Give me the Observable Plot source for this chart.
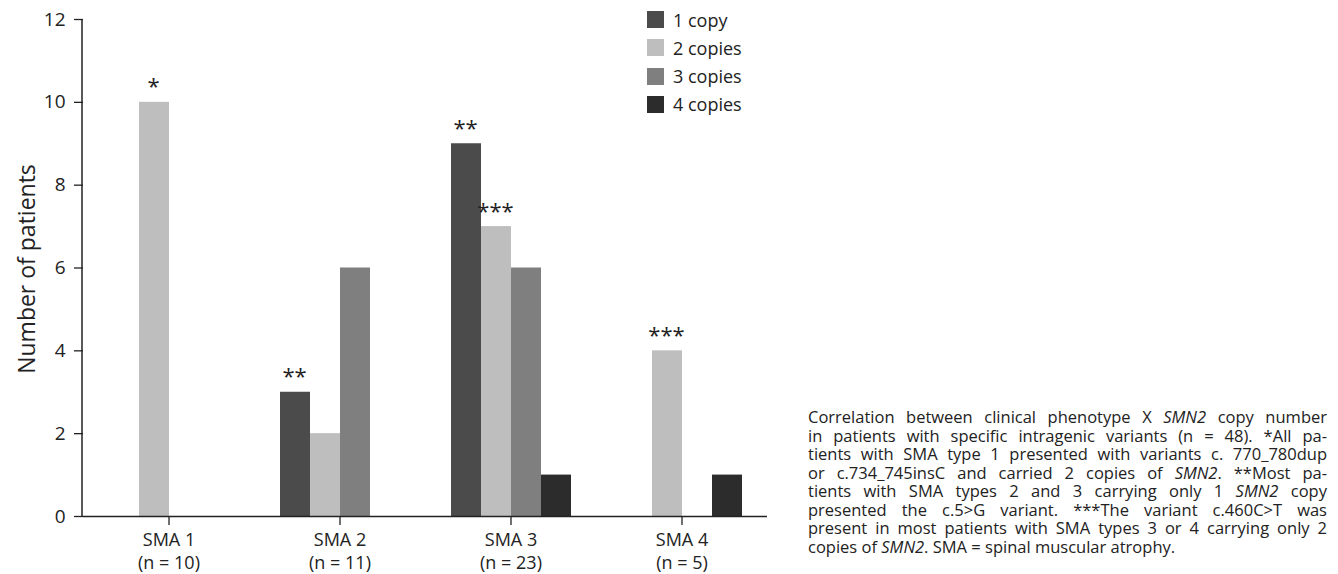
<!DOCTYPE html>
<html>
<head>
<meta charset="utf-8">
<script src="https://cdn.jsdelivr.net/npm/d3@7"></script>
<script src="https://cdn.jsdelivr.net/npm/@observablehq/plot@0.6"></script>
<style>
  body { margin: 0; background: #fff; font-family: "Open Sans", sans-serif; }
  #wrap { position: relative; width: 1338px; height: 574px; overflow: hidden; }
  #chart { position: absolute; left: 0; top: 0; }
  #ylabel { position: absolute; left: 26px; top: 269px; transform: translate(-50%, -50%) rotate(-90deg); font-size: 23px; color: #222; white-space: nowrap; }
  #legend { position: absolute; left: 647px; top: 11px; }
  .item { display: flex; align-items: center; height: 17px; margin-bottom: 11.3px; font-size: 18px; color: #222; }
  .sw { width: 17px; height: 17px; margin-right: 9px; flex: none; }
  #caption { position: absolute; left: 808px; top: 408px; width: 519px; font-size: 16.5px; line-height: 18.5px; color: #222; }
  #caption div { text-align: justify; text-align-last: justify; white-space: nowrap; }
  #caption div.last { text-align-last: left; }
</style>
</head>
<body>
<div id="wrap">
  <div id="chart"></div>
  <div id="ylabel">Number of patients</div>
  <div id="legend"></div>
  <div id="caption">
    <div>Correlation between clinical phenotype X <i>SMN2</i> copy number</div>
    <div>in patients with specific intragenic variants (n = 48). *All pa-</div>
    <div>tients with SMA type 1 presented with variants c. 770_780dup</div>
    <div>or c.734_745insC and carried 2 copies of <i>SMN2</i>. **Most pa-</div>
    <div>tients with SMA types 2 and 3 carrying only 1 <i>SMN2</i> copy</div>
    <div>presented the c.5&gt;G variant. ***The variant c.460C&gt;T was</div>
    <div>present in most patients with SMA types 3 or 4 carrying only 2</div>
    <div class="last">copies of <i>SMN2</i>. SMA = spinal muscular atrophy.</div>
  </div>
</div>
<script>
// ---- data ----
const categories = ["SMA 1", "SMA 2", "SMA 3", "SMA 4"];
const sampleSizes = [10, 11, 23, 5];
const copyLabels = ["1 copy", "2 copies", "3 copies", "4 copies"];
const copy1 = [0, 3, 9, 0];
const copy2 = [10, 2, 7, 4];
const copy3 = [0, 6, 6, 0];
const copy4 = [0, 0, 1, 1];
const copyColors = ["#4b4b4b", "#bebebe", "#7f7f7f", "#2c2c2c"];
const yTicks = [0, 2, 4, 6, 8, 10, 12];
const noteCategory = ["SMA 1", "SMA 2", "SMA 3", "SMA 3", "SMA 4"];
const noteCopy = ["2 copies", "1 copy", "1 copy", "2 copies", "2 copies"];
const noteText = ["*", "**", "**", "***", "***"];

// ---- build rows ----
const series = [copy1, copy2, copy3, copy4];
const rows = [];
categories.forEach((c, i) => series.forEach((s, j) => rows.push({category: c, copies: copyLabels[j], value: s[i]})));
const valueOf = (c, k) => series[copyLabels.indexOf(k)][categories.indexOf(c)];
const notes = noteText.map((t, i) => ({category: noteCategory[i], copies: noteCopy[i], text: t, value: valueOf(noteCategory[i], noteCopy[i])}));
const catLabel = new Map(categories.map((c, i) => [c, `${c}\n(n = ${sampleSizes[i]})`]));

const chart = Plot.plot({
  width: 790,
  height: 574,
  marginLeft: 82,
  marginRight: 22,
  marginTop: 19,
  marginBottom: 58,
  style: {fontFamily: "Open Sans", fontSize: "18px", color: "#222", background: "transparent"},
  fx: {domain: categories, padding: 0},
  x: {domain: copyLabels, paddingInner: 0, paddingOuter: 0.77},
  y: {domain: [0, 12]},
  color: {domain: copyLabels, range: copyColors},
  marks: [
    Plot.barY(rows.filter(d => d.value > 0), {fx: "category", x: "copies", y: "value", fill: "copies"}),
    Plot.text(notes, {fx: "category", x: "copies", y: "value", text: "text", lineAnchor: "bottom", dy: -8, dx: -1, fontSize: 22, fill: "#222"}),
    Plot.ruleY([0], {stroke: "#222", strokeWidth: 1.5}),
    Plot.axisY({ticks: yTicks, tickSize: 9, tickPadding: 9, fontSize: 19, label: null, stroke: "#222", strokeWidth: 1.3}),
    Plot.axisFx({anchor: "bottom", tickSize: 9, tickPadding: 5, fontSize: 18, lineHeight: 1.25, label: null, tickFormat: d => catLabel.get(d), stroke: "#222", strokeWidth: 1.3}),
    Plot.axisX({ticks: [], label: null})
  ]
});
document.getElementById("chart").appendChild(chart);

// y axis line using the plot's own y scale
const ys = chart.scale("y");
d3.select(chart).append("line")
  .attr("x1", 82).attr("x2", 82)
  .attr("y1", ys.apply(12)).attr("y2", ys.apply(0))
  .attr("stroke", "#222").attr("stroke-width", 1.5);

// legend
const legend = d3.select("#legend");
copyLabels.forEach((l, i) => {
  const item = legend.append("div").attr("class", "item");
  item.append("div").attr("class", "sw").style("background", copyColors[i]);
  item.append("span").text(l);
});
</script>
</body>
</html>
